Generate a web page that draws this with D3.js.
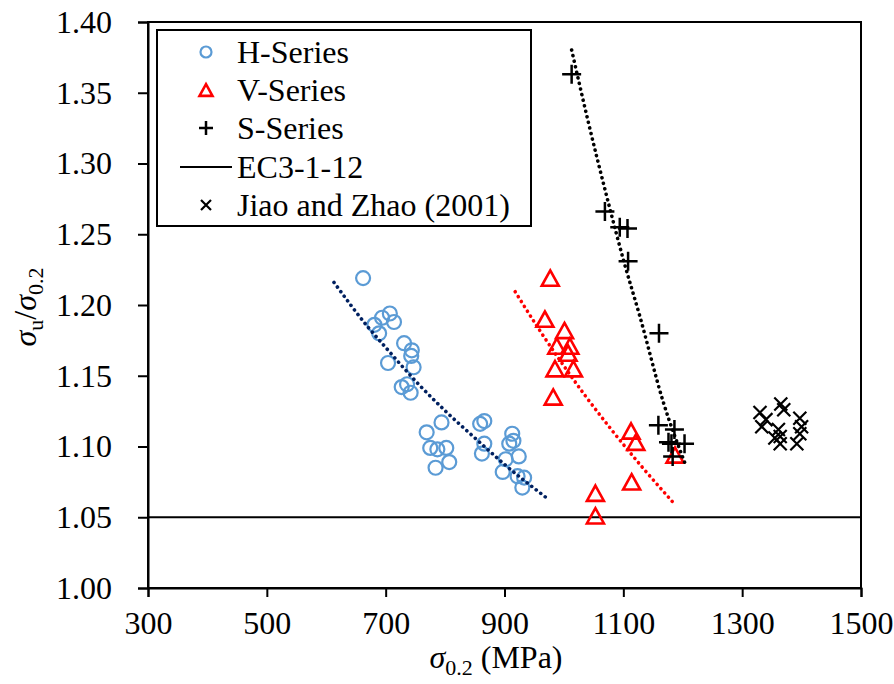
<!DOCTYPE html>
<html><head><meta charset="utf-8">
<script src="https://cdn.jsdelivr.net/npm/d3@7"></script>
<style>
html,body{margin:0;padding:0;background:#fff;}
svg text{font-family:"Liberation Serif","Times New Roman",serif;fill:#000;}
</style></head>
<body><svg id="c" width="894" height="684"></svg>
<script>
// ---- data ----
const xTicks = [300, 500, 700, 900, 1100, 1300, 1500];
const yTicks = [1.00, 1.05, 1.10, 1.15, 1.20, 1.25, 1.30, 1.35, 1.40];
const legendLabels = ["H-Series", "V-Series", "S-Series", "EC3-1-12", "Jiao and Zhao (2001)"];

const hX = [662, 694, 707, 714, 681, 689, 731, 744, 743, 704, 747, 727, 736, 742, 794, 769, 859, 866, 775, 787, 802, 807, 784, 866, 862, 913, 915, 908, 924, 902, 897, 922, 933, 930];
const hY = [1.219, 1.191, 1.194, 1.188, 1.186, 1.180, 1.173, 1.168, 1.164, 1.159, 1.156, 1.142, 1.144, 1.138, 1.117, 1.110, 1.116, 1.118, 1.099, 1.098, 1.099, 1.089, 1.085, 1.102, 1.095, 1.109, 1.104, 1.102, 1.093, 1.091, 1.082, 1.079, 1.078, 1.071];

const vX = [977, 968, 1001, 988, 1010, 1007, 985, 1016, 982, 1113, 1121, 1114, 1053, 1053, 1187];
const vY = [1.219, 1.190, 1.182, 1.171, 1.171, 1.166, 1.155, 1.155, 1.135, 1.111, 1.103, 1.075, 1.067, 1.051, 1.094];

const sX = [1013, 1069, 1094, 1107, 1108, 1160, 1159, 1186, 1181, 1203, 1183, 1176];
const sY = [1.363, 1.266, 1.255, 1.254, 1.231, 1.180, 1.115, 1.112, 1.102, 1.102, 1.093, 1.103];

const jX = [1330, 1333, 1340, 1365, 1370, 1361, 1364, 1364, 1355, 1397, 1400, 1397, 1392];
const jY = [1.124, 1.114, 1.119, 1.130, 1.126, 1.112, 1.107, 1.102, 1.106, 1.120, 1.114, 1.109, 1.102];

const ecY = 1.05;

// trend lines
const hTrendX = [613, 672, 700, 755, 800, 854, 900, 973];
const hTrendY = [1.216, 1.1835, 1.170, 1.1442, 1.1253, 1.1046, 1.0874, 1.063];
const vTrendX = [918, 960, 1000, 1035, 1080, 1130, 1185];
const vTrendY = [1.2094, 1.1816, 1.1569, 1.1364, 1.1119, 1.0863, 1.0599];
const sTrendX = [1013, 1040, 1075, 1100, 1128, 1167, 1205];
const sTrendY = [1.3802, 1.3311, 1.2719, 1.2321, 1.1917, 1.1317, 1.0869];

// ---- chart ----
const svg = d3.select("#c");
const L = 148, R = 861, T = 22, B = 588;
const x = d3.scaleLinear().domain([300, 1500]).range([L, R]);
const y = d3.scaleLinear().domain([1.00, 1.40]).range([B, T]);
const FS = 32;
const FF = "Liberation Serif, Times New Roman, serif";

// frame
svg.append("rect").attr("x", L).attr("y", T).attr("width", R - L).attr("height", B - T)
  .attr("fill", "none").attr("stroke", "#000").attr("stroke-width", 2);

// axes
const yAxis = svg.append("g").attr("transform", `translate(${L},0)`)
  .call(d3.axisLeft(y).tickValues(yTicks).tickFormat(d3.format(".2f")).tickSize(10).tickPadding(26));
const xAxis = svg.append("g").attr("transform", `translate(0,${B})`)
  .call(d3.axisBottom(x).tickValues(xTicks).tickFormat(d3.format("d")).tickSize(9).tickPadding(14));
[yAxis, xAxis].forEach(g => {
  g.attr("font-family", FF).attr("font-size", FS);
  g.select(".domain").attr("stroke", "#000").attr("stroke-width", 2);
  g.selectAll(".tick line").attr("stroke", "#000").attr("stroke-width", 2);
  g.selectAll(".tick text").attr("font-size", FS).attr("font-family", FF).attr("fill", "#000");
});

// EC3 line
svg.append("line").attr("x1", L).attr("x2", R).attr("y1", y(ecY)).attr("y2", y(ecY))
  .attr("stroke", "#000").attr("stroke-width", 2);

// trend lines
const line = d3.line().x(d => x(d[0])).y(d => y(d[1])).curve(d3.curveMonotoneX);
function trend(xs, ys, color) {
  svg.append("path").attr("d", line(xs.map((v, i) => [v, ys[i]])))
    .attr("fill", "none").attr("stroke", color).attr("stroke-width", 3.6)
    .attr("stroke-linecap", "round").attr("stroke-dasharray", "0.1 5.6");
}

// markers
function circle(g, cx, cy, r) {
  g.append("circle").attr("cx", cx).attr("cy", cy).attr("r", r)
    .attr("fill", "none").attr("stroke", "#5B9BD5").attr("stroke-width", 2.2);
}
function tri(g, cx, cy, s) {
  const h = s * 0.9;
  g.append("path").attr("d", `M${cx},${cy - h / 2}L${cx + s / 2},${cy + h / 2}L${cx - s / 2},${cy + h / 2}Z`)
    .attr("fill", "none").attr("stroke", "#FF0000").attr("stroke-width", 2.6).attr("stroke-linejoin", "miter");
}
function plus(g, cx, cy, s) {
  g.append("path").attr("d", `M${cx - s / 2},${cy}H${cx + s / 2}M${cx},${cy - s / 2}V${cy + s / 2}`)
    .attr("stroke", "#000").attr("stroke-width", 2.5);
}
function cross(g, cx, cy, s) {
  const h = s / 2;
  g.append("path").attr("d", `M${cx - h},${cy - h}L${cx + h},${cy + h}M${cx - h},${cy + h}L${cx + h},${cy - h}`)
    .attr("stroke", "#000").attr("stroke-width", 2.2);
}

const gm = svg.append("g");
hX.forEach((v, i) => circle(gm, x(v), y(hY[i]), 7));
vX.forEach((v, i) => tri(gm, x(v), y(vY[i]), 17));
sX.forEach((v, i) => plus(gm, x(v), y(sY[i]), 19));
jX.forEach((v, i) => cross(gm, x(v), y(jY[i]), 13));

trend(hTrendX, hTrendY, "#002060");
trend(vTrendX, vTrendY, "#FF0000");
trend(sTrendX, sTrendY, "#000000");

// legend
const lg = svg.append("g");
lg.append("rect").attr("x", 157).attr("y", 30).attr("width", 374).attr("height", 196)
  .attr("fill", "#fff").attr("stroke", "#000").attr("stroke-width", 2);
const rowY = [52, 90, 128, 167, 205];
const mx = 206;
circle(lg, mx, rowY[0], 5.5);
tri(lg, mx, rowY[1], 13);
plus(lg, mx, rowY[2], 14);
lg.append("line").attr("x1", 180).attr("x2", 232).attr("y1", rowY[3]).attr("y2", rowY[3]).attr("stroke", "#000").attr("stroke-width", 2);
cross(lg, mx, rowY[4], 10);
legendLabels.forEach((t, i) => {
  lg.append("text").attr("x", 237).attr("y", rowY[i]).attr("dy", "0.35em").attr("font-size", FS).text(t);
});

// axis titles
const xt = svg.append("text").attr("x", 496).attr("y", 668).attr("text-anchor", "middle").attr("font-size", FS);
xt.append("tspan").attr("font-style", "italic").text("σ");
xt.append("tspan").attr("font-size", 22).attr("dy", 7).text("0.2");
xt.append("tspan").attr("dy", -7).text(" (MPa)");

const yt = svg.append("text").attr("transform", "translate(36,307) rotate(-90)").attr("text-anchor", "middle").attr("font-size", FS);
yt.append("tspan").attr("font-style", "italic").text("σ");
yt.append("tspan").attr("font-size", 22).attr("dy", 7).text("u");
yt.append("tspan").attr("dy", -7).text("/");
yt.append("tspan").attr("font-style", "italic").text("σ");
yt.append("tspan").attr("font-size", 22).attr("dy", 7).text("0.2");
</script></body></html>
